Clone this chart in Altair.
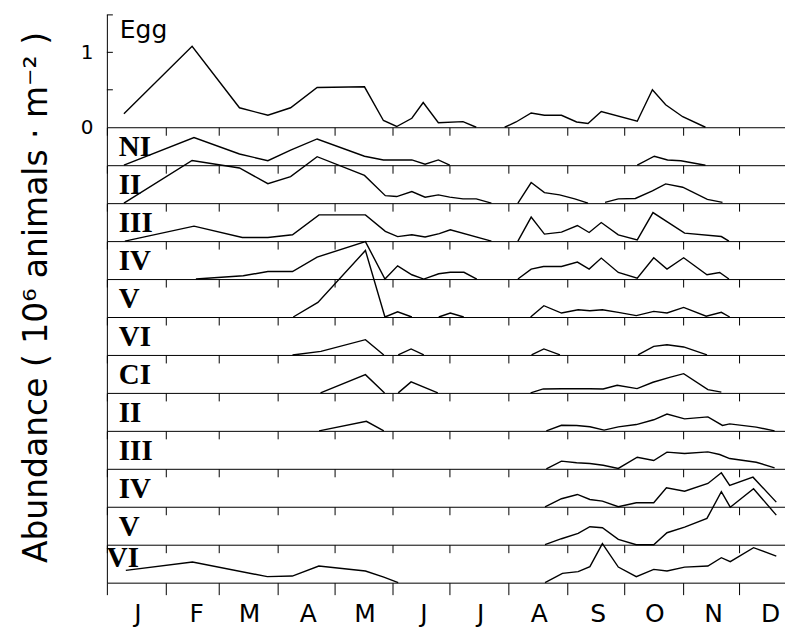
import altair as alt
import pandas as pd

# ---------------- data (day of year, abundance in 10^6 animals m^-2) ----------------
stage_labels = ["Egg", "NI", "II", "III", "IV", "V", "VI", "CI", "II", "III", "IV", "V", "VI"]
month_starts = [0, 31, 59, 90, 120, 151, 181, 212, 243, 273, 304, 334]
month_letters = ["J", "F", "M", "A", "M", "J", "J", "A", "S", "O", "N", "D"]
egg_axis_labels = [0, 1]
egg_axis_ticks = [0.5, 1.0, 1.5]

egg_day = [9, 45, 70, 85, 97, 111, 136, 146, 153, 161, 167, 175, 188, 195, None,
           210, 216, 224, 231, 240, 248, 254, 261, 280, 288, 295, 304, 316]
egg_val = [0.18, 1.08, 0.26, 0.16, 0.26, 0.53, 0.54, 0.09, 0.01, 0.12, 0.33, 0.06, 0.075, 0.0, None,
           0.0, 0.07, 0.19, 0.16, 0.16, 0.07, 0.05, 0.21, 0.08, 0.50, 0.30, 0.14, 0.0]

n1_day = [9, 46, 70, 85, 97, 111, 136, 146, 161, 168, 175, 181, None, 280, 289, 296, 303, 316]
n1_val = [0.0, 0.37, 0.15, 0.06, 0.20, 0.35, 0.12, 0.07, 0.07, 0.013, 0.07, 0.0, None, 0.0, 0.12, 0.07, 0.06, 0.0]

n2_day = [9, 45, 70, 85, 97, 111, 136, 147, 153, 161, 168, 175, 181, 188, 195, 203, None,
          217, 224, 231, 239, 247, 254, None, 263, 270, 279, 288, 295, 304, 317, 325]
n2_val = [0.0, 0.57, 0.47, 0.26, 0.355, 0.62, 0.37, 0.10, 0.088, 0.155, 0.08, 0.11, 0.08, 0.057, 0.057, 0.0, None,
          0.0, 0.275, 0.14, 0.11, 0.057, 0.0, None, 0.01, 0.057, 0.062, 0.164, 0.257, 0.213, 0.05, 0.01]

n3_day = [9.5, 46, 71.5, 85, 98, 112, 136.5, 147, 153.5, 161, 168, 175.5, 181.3, 203, None,
          217, 224, 231, 240, 248.4, 254.6, 261, 270, 280, 288.3, 305, 324.4, 328.4]
n3_val = [0.0, 0.20, 0.048, 0.048, 0.084, 0.35, 0.35, 0.13, 0.06, 0.084, 0.055, 0.10, 0.151, 0.0, None,
          0.0, 0.32, 0.093, 0.12, 0.208, 0.115, 0.248, 0.084, 0.017, 0.381, 0.107, 0.061, 0.0]

n4_day = [47, 72, 85, 98, 111, 136.5, 146.8, 153.5, 161, 167.3, 175.2, 181.3, 188.5, 195.3, None,
          217, 224, 230.5, 240, 248.4, 254.6, 261, 270, 280, 288.7, 295.7, 304.5, 316.8, 323.5, 328.4]
n4_val = [0.0, 0.044, 0.10, 0.10, 0.293, 0.50, 0.0, 0.177, 0.057, 0.0, 0.07, 0.09, 0.09, 0.0, None,
          0.0, 0.133, 0.168, 0.168, 0.227, 0.133, 0.28, 0.088, 0.013, 0.284, 0.133, 0.284, 0.057, 0.088, 0.0]

n5_day = [98.4, 111.4, 136.5, 146.8, 153.5, 161, None, 175.2, 181.3, 188.4, None,
          223.7, 230.7, 240, 248.8, 255, 261.6, 270, 279.5, 288.7, 295.7, 304.5, 316.4, 324.4, 328.8]
n5_val = [0.0, 0.195, 0.888, 0.0, 0.07, 0.0, None, 0.0, 0.053, 0.0, None,
          0.0, 0.151, 0.053, 0.097, 0.084, 0.097, 0.062, 0.018, 0.075, 0.053, 0.128, 0.01, 0.062, 0.0]

n6_day = [98, 113, 136.5, 146.2, None, 153.8, 160.6, 167.3, None, 224.2, 230.7, 239.2, None,
          280.4, 288.7, 295.7, 304.5, 316.8]
n6_val = [0.0, 0.048, 0.204, 0.0, None, 0.0, 0.08, 0.0, None, 0.0, 0.08, 0.0, None,
          0.0, 0.115, 0.137, 0.107, 0.0]

c1_day = [112.8, 136.5, 146.6, None, 153.8, 160.6, 174.7, None,
          223.7, 230.4, 240, 248, 255, 262, 269.4, 279.9, 288.3, 297.1, 304.5, 317.3, 324.4]
c1_val = [0.0, 0.244, 0.0, None, 0.0, 0.147, 0.0, None,
          0.0, 0.053, 0.055, 0.055, 0.055, 0.053, 0.102, 0.057, 0.142, 0.208, 0.257, 0.044, 0.01]

c2_day = [112, 137, 146.2, None, 232, 240, 248, 255, 262.5, 270, 279.5, 288.7, 295.7, 305, 317.3, 325, 328.8, 342.8, 352.5]
c2_val = [0.0, 0.128, 0.0, None, 0.0, 0.075, 0.071, 0.055, 0.01, 0.053, 0.084, 0.148, 0.225, 0.16, 0.187, 0.073, 0.093, 0.05, 0.0]

c3_day = [232, 240, 248, 255, 262, 270, 280, 288.7, 295.7, 305, 317.3, 323.5, 328.8, 342.8, 352.5]
c3_val = [0.0, 0.102, 0.08, 0.071, 0.048, 0.005, 0.155, 0.111, 0.222, 0.204, 0.226, 0.191, 0.137, 0.088, 0.013]

c4_day = [231.3, 240, 248.4, 255, 261.6, 270, 279.5, 288.7, 295.4, 305, 317.3, 324.4, 328.8, 341.1, 353.4]
c4_val = [0.0, 0.107, 0.164, 0.097, 0.075, 0.0, 0.053, 0.053, 0.253, 0.208, 0.311, 0.453, 0.284, 0.395, 0.062]

c5_day = [231.3, 240, 248.8, 255, 261.6, 270, 279.5, 288.7, 295.7, 305, 316.8, 324.4, 329.1, 341.4, 353.4]
c5_val = [0.0, 0.08, 0.151, 0.24, 0.227, 0.071, 0.0, 0.0, 0.16, 0.235, 0.351, 0.707, 0.501, 0.747, 0.395]

c6_day = [10, 45.2, 84.7, 97.9, 111.9, 136.5, 146.2, 153.8, None,
          231.3, 240.5, 248.8, 255, 261.6, 270, 279.5, 288.7, 295.7, 305, 317.3, 324.4, 329.1, 341.4, 353.4]
c6_val = [0.164, 0.275, 0.08, 0.088, 0.222, 0.155, 0.075, 0.0, None,
          0.0, 0.124, 0.147, 0.213, 0.52, 0.208, 0.08, 0.177, 0.155, 0.208, 0.222, 0.333, 0.28, 0.467, 0.355]

series = [(egg_day, egg_val), (n1_day, n1_val), (n2_day, n2_val), (n3_day, n3_val),
          (n4_day, n4_val), (n5_day, n5_val), (n6_day, n6_val), (c1_day, c1_val),
          (c2_day, c2_val), (c3_day, c3_val), (c4_day, c4_val), (c5_day, c5_val),
          (c6_day, c6_val)]

# ---------------- layout ----------------
PX_PER_UNIT = 75.0
PX_PER_DAY = 1.897
XMAX = 358
W = round(XMAX * PX_PER_DAY)
EGG_H = 113
H = 38
SANS = "DejaVu Sans"
SERIF = "Liberation Serif"


def frame(days, vals):
    rows, seg = [], 0
    for d, v in zip(days, vals):
        if d is None:
            seg += 1
            continue
        rows.append({"day": d, "val": v, "seg": seg})
    return pd.DataFrame(rows)


label_expr = " : ".join(
    f"datum.value == {m} ? '{l}'" for m, l in zip(month_starts, month_letters)
) + " : ''"

panels = []
n = len(series)
for i, ((days, vals), name) in enumerate(zip(series, stage_labels)):
    first = i == 0
    last = i == n - 1
    h = EGG_H if first else H
    ydom = [0, h / PX_PER_UNIT]
    xscale = alt.Scale(domain=[0, XMAX], nice=False, zero=False)
    yscale = alt.Scale(domain=ydom, nice=False, zero=False)

    xaxis = alt.Axis(
        values=month_starts, title=None, grid=False, domain=True,
        ticks=True, tickSize=12 if last else 8, labels=last,
        labelExpr=label_expr, labelOffset=30.5, labelFlush=False,
        labelOverlap=False, labelFontSize=25, labelFont=SANS,
        labelPadding=7, labelColor="black",
    )
    if first:
        yaxis = alt.Axis(
            values=egg_axis_labels, grid=False, domain=True, ticks=False, tickSize=0,
            labelFontSize=20, labelFont=SANS, labelPadding=14, labelColor="black",
            title="Abundance  ( 10⁶ animals · m⁻² )", titleAngle=270,
            titleFont=SANS, titleFontSize=33, titleFontWeight="normal",
            titleX=-60, titleY=283, titleAlign="center", titleBaseline="alphabetic",
            titleColor="black",
        )
    else:
        yaxis = alt.Axis(labels=False, ticks=False, grid=False, domain=True, title=None)

    line = alt.Chart(frame(days, vals)).mark_line(
        color="black", strokeWidth=1.4, strokeJoin="miter"
    ).encode(
        x=alt.X("day:Q", scale=xscale, axis=xaxis),
        y=alt.Y("val:Q", scale=yscale, axis=yaxis),
        detail="seg:N",
        order="day:Q",
    )

    if first:
        text = alt.Chart(pd.DataFrame({"label": [name]})).mark_text(
            font=SANS, fontSize=25, align="left", baseline="alphabetic", color="black"
        ).encode(text="label:N", x=alt.value(13), y=alt.value(24))
    else:
        tx = 0 if last else 12
        ty = 22 if last else 29
        text = alt.Chart(pd.DataFrame({"label": [name]})).mark_text(
            font=SERIF, fontSize=29, fontWeight="bold", align="left",
            baseline="alphabetic", color="black"
        ).encode(text="label:N", x=alt.value(tx), y=alt.value(ty))

    layers = [line, text]
    if first:
        ticks = alt.Chart(pd.DataFrame({"v": egg_axis_ticks})).mark_rule(
            color="black", strokeWidth=1
        ).encode(
            y=alt.Y("v:Q", scale=yscale, axis=yaxis),
            x=alt.value(0), x2=alt.value(6),
        )
        layers.append(ticks)

    panels.append(alt.layer(*layers).properties(width=W, height=h))

chart = alt.vconcat(*panels, spacing=0, bounds="flush").configure_view(
    strokeWidth=0
).configure_axis(
    domainColor="black", domainWidth=1, tickColor="black", tickWidth=1
).properties(
    padding={"left": 12, "top": 6, "right": 0, "bottom": 0},
    background="white",
)

chart.save("out.html", embed_options={"renderer": "svg", "actions": False})
